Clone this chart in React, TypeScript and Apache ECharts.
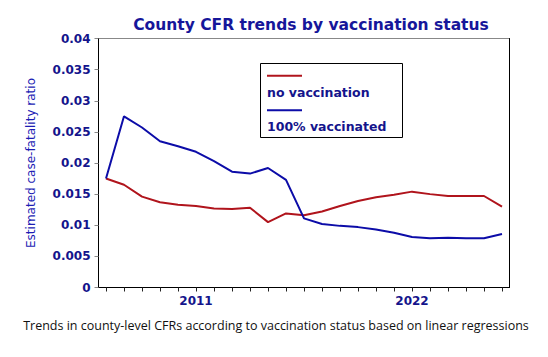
import React, { useEffect, useRef } from "react";
import * as echarts from "echarts";

const xLabels = ["", "", "", "", "", "2011", "", "", "", "", "", "", "", "", "", "", "", "2022", "", "", "", "", ""];
const noVaccination = [0.0175, 0.0165, 0.0146, 0.0137, 0.0133, 0.0131, 0.0127, 0.0126, 0.0128, 0.0105, 0.0119, 0.0116, 0.0122, 0.0131, 0.0139, 0.0145, 0.0149, 0.0154, 0.015, 0.0147, 0.0147, 0.0147, 0.013];
const fullyVaccinated = [0.0175, 0.0275, 0.0257, 0.0235, 0.0227, 0.0218, 0.0203, 0.0186, 0.0183, 0.0192, 0.0173, 0.0111, 0.0102, 0.0099, 0.0097, 0.0093, 0.0088, 0.0081, 0.0079, 0.008, 0.0079, 0.0079, 0.0086];
const seriesNames = ["no vaccination", "100% vaccinated"];
const yTicks = [0, 0.005, 0.01, 0.015, 0.02, 0.025, 0.03, 0.035, 0.04];

const RED = "#b0141c";
const BLUE = "#0c0ca8";
const NAVY = "#14148c";

export default function App() {
  const ref = useRef<HTMLDivElement>(null);
  useEffect(() => {
    if (!ref.current) return;
    const chart = echarts.init(ref.current, null, { renderer: "svg" });
    chart.setOption({
      animation: false,
      backgroundColor: "#ffffff",
      grid: [
        {
          left: 98.5,
          right: 38.5,
          top: 38.5,
          bottom: 69.5,
          show: true,
          borderColor: "#888888",
          borderWidth: 1,
          backgroundColor: "transparent",
        },
        { left: 106, right: 46, top: 38.5, bottom: 69.5 },
      ],
      xAxis: [
        {
          type: "value",
          gridIndex: 0,
          min: 0,
          max: 1,
          splitLine: { show: false },
          axisLine: { show: true, onZero: false, lineStyle: { color: "#000", width: 1 } },
          axisTick: { show: false },
          axisLabel: { show: false },
        },
        {
          type: "category",
          gridIndex: 1,
          data: xLabels,
          boundaryGap: false,
          splitLine: { show: false },
          axisLine: { show: false, onZero: false },
          axisTick: { show: true, interval: 0, length: 4, lineStyle: { color: "#222" } },
          axisLabel: {
            interval: 0,
            margin: 7,
            fontFamily: "DejaVu Sans",
            fontWeight: "bold",
            fontSize: 12,
            color: NAVY,
          },
        },
      ],
      yAxis: [
        {
          type: "value",
          gridIndex: 0,
          min: 0,
          max: 0.04,
          interval: 0.005,
          name: "Estimated case-fatality ratio",
          nameLocation: "middle",
          nameGap: 62,
          nameTextStyle: { fontFamily: "DejaVu Sans", fontSize: 12, color: "#1c1cb4" },
          splitLine: { show: false },
          axisLine: { show: true, lineStyle: { color: "#000", width: 1 } },
          axisTick: { show: true, length: 4, lineStyle: { color: "#888" } },
          axisLabel: {
            margin: 8,
            fontFamily: "DejaVu Sans",
            fontWeight: "bold",
            fontSize: 12,
            color: NAVY,
            formatter: (v: number) => {
              const t = yTicks.find((y) => Math.abs(y - v) < 1e-9);
              return String(t !== undefined ? t : v);
            },
          },
        },
        {
          type: "value",
          gridIndex: 0,
          position: "right",
          min: 0,
          max: 0.04,
          interval: 0.005,
          splitLine: { show: false },
          axisLine: { show: true, lineStyle: { color: "#000", width: 1 } },
          axisTick: { show: false },
          axisLabel: { show: false },
        },
        {
          type: "value",
          gridIndex: 1,
          min: 0,
          max: 0.04,
          interval: 0.005,
          show: false,
        },
      ],
      series: [
        {
          name: seriesNames[0],
          type: "line",
          xAxisIndex: 1,
          yAxisIndex: 2,
          data: noVaccination,
          symbol: "none",
          lineStyle: { color: RED, width: 2 },
          itemStyle: { color: RED },
        },
        {
          name: seriesNames[1],
          type: "line",
          xAxisIndex: 1,
          yAxisIndex: 2,
          data: fullyVaccinated,
          symbol: "none",
          lineStyle: { color: BLUE, width: 2 },
          itemStyle: { color: BLUE },
        },
      ],
      graphic: [
        {
          type: "text",
          x: 311,
          y: 25,
          style: {
            text: "County CFR trends by vaccination status",
            fontFamily: "DejaVu Sans",
            fontWeight: "bold",
            fontSize: 15.5,
            fill: "#16169a",
            align: "center",
            verticalAlign: "middle",
          },
        },
        {
          type: "rect",
          shape: { x: 260.5, y: 63.5, width: 142, height: 74 },
          style: { fill: "#fff", stroke: "#000", lineWidth: 1 },
          z: 100,
        },
        {
          type: "line",
          shape: { x1: 267, y1: 75.7, x2: 302, y2: 75.7 },
          style: { stroke: RED, lineWidth: 2 },
          z: 101,
        },
        {
          type: "text",
          x: 267,
          y: 92,
          style: {
            text: seriesNames[0],
            fontFamily: "DejaVu Sans",
            fontWeight: "bold",
            fontSize: 12.5,
            fill: NAVY,
            verticalAlign: "middle",
          },
          z: 101,
        },
        {
          type: "line",
          shape: { x1: 267, y1: 110.3, x2: 302, y2: 110.3 },
          style: { stroke: BLUE, lineWidth: 2 },
          z: 101,
        },
        {
          type: "text",
          x: 267,
          y: 126.7,
          style: {
            text: seriesNames[1],
            fontFamily: "DejaVu Sans",
            fontWeight: "bold",
            fontSize: 12.5,
            fill: NAVY,
            verticalAlign: "middle",
          },
          z: 101,
        },
        {
          type: "text",
          x: 276,
          y: 325.5,
          style: {
            text: "Trends in county-level CFRs according to vaccination status based on linear regressions",
            fontFamily: "Open Sans",
            fontSize: 12.5,
            fill: "#111",
            align: "center",
            verticalAlign: "middle",
          },
        },
      ],
    });
    return () => chart.dispose();
  }, []);
  return <div ref={ref} style={{ width: 548, height: 357, position: "absolute", left: 0, top: 0 }} />;
}
